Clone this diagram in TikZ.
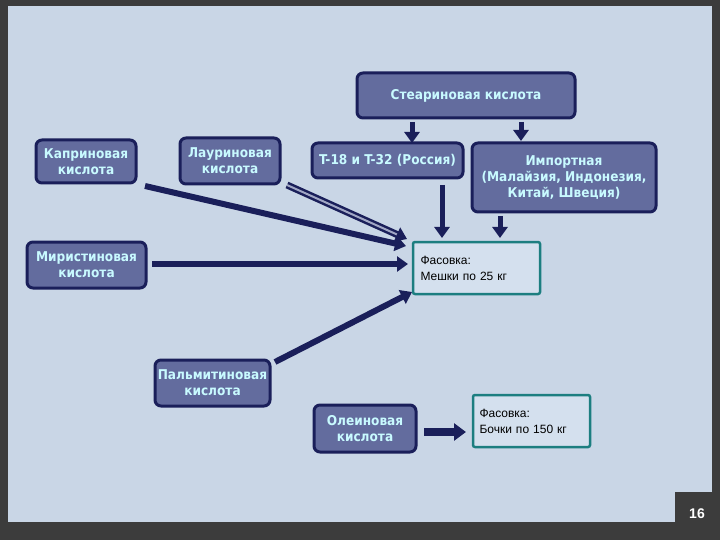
\documentclass[tikz,border=0pt]{standalone}
\usepackage{fontspec}
\setmainfont{Liberation Sans}
\newfontfamily\cond{DejaVu Sans Condensed}
\usetikzlibrary{arrows.meta}
\definecolor{frame}{HTML}{3C3C3C}
\definecolor{panel}{HTML}{C9D6E6}
\definecolor{boxfill}{HTML}{636C9E}
\definecolor{boxdraw}{HTML}{1A1F5A}
\definecolor{boxtext}{HTML}{C8FAFF}
\definecolor{teal}{HTML}{1C7E80}
\definecolor{pack}{HTML}{D4E0EE}
\tikzset{
 acid/.style={draw=boxdraw,line width=3pt,fill=boxfill,rounded corners=6pt,text=boxtext,font=\cond\bfseries\fontsize{13.5}{16}\selectfont,align=center,inner sep=0pt},
 packbox/.style={draw=teal,line width=2.5pt,fill=pack,rounded corners=2pt,font=\fontsize{12}{16}\selectfont,align=left,inner sep=0pt},
 arr/.style={draw=boxdraw,line width=6pt,-{Triangle[length=11pt,width=15pt]}},
 dbl/.style={draw=boxdraw,double=boxfill!60,double distance=2pt,line width=2.5pt,-{Triangle[length=11pt,width=15pt]}},
}
\begin{document}
\begin{tikzpicture}[x=1pt,y=-1pt]
\useasboundingbox (0,0) rectangle (720,540);
\fill[frame] (0,0) rectangle (720,540);
\fill[panel] (8,6) rectangle (712,522);
\fill[frame] (675,492) rectangle (720,540);
\node[text=white,font=\bfseries\fontsize{14}{16}\selectfont] (pg) at (697,514) {16};

\node[acid,minimum width=218pt,minimum height=45pt] (st) at (466,95.5) {Стеариновая кислота};
\node[acid,minimum width=100pt,minimum height=43pt] (kap) at (86,161.5) {Каприновая\\кислота};
\node[acid,minimum width=100pt,minimum height=46pt] (lau) at (230,161) {Лауриновая\\кислота};
\node[acid,minimum width=151pt,minimum height=35pt] (t18) at (387.5,160.5) {T-18 и T-32 (Россия)};
\node[acid,minimum width=184pt,minimum height=69pt] (imp) at (564,177.5) {Импортная\\(Малайзия, Индонезия,\\Китай, Швеция)};
\node[acid,minimum width=119pt,minimum height=46pt] (mir) at (86.5,265) {Миристиновая\\кислота};
\node[acid,minimum width=115pt,minimum height=46pt] (pal) at (212.5,383) {Пальмитиновая\\кислота};
\node[acid,minimum width=102pt,minimum height=47pt] (ole) at (365,428.5) {Олеиновая\\кислота};
\node[packbox,minimum width=127pt,minimum height=52pt,text width=112pt] (p1) at (476.5,268) {Фасовка:\\Мешки по 25 кг};
\node[packbox,minimum width=117pt,minimum height=52pt,text width=104pt] (p2) at (531.5,421) {Фасовка:\\Бочки по 150 кг\\[6pt]};

\coordinate (c1) at (145,186); \coordinate (c1e) at (406,246);
\coordinate (c2) at (287,185); \coordinate (c2e) at (407,239);
\coordinate (c3) at (152,264); \coordinate (c3e) at (408,264);
\coordinate (c4) at (275,362); \coordinate (c4e) at (412,292);
\draw[arr] (c1) -- (c1e);
\draw[dbl] (c2) -- (c2e);
\draw[arr] (c3) -- (c3e);
\draw[arr] (c4) -- (c4e);
\draw[arr,line width=5pt] (442,185) -- (442,238);
\draw[arr,line width=5pt] (500,216) -- (500,238);
\draw[arr,line width=5pt] (412,122) -- (412,143);
\draw[arr,line width=5pt] (521,122) -- (521,141);
\coordinate (o1) at (424,432); \coordinate (o2) at (466,432);
\draw[arr,line width=8pt,-{Triangle[length=12pt,width=17pt]}] (o1) -- (o2);
\end{tikzpicture}
\end{document}
